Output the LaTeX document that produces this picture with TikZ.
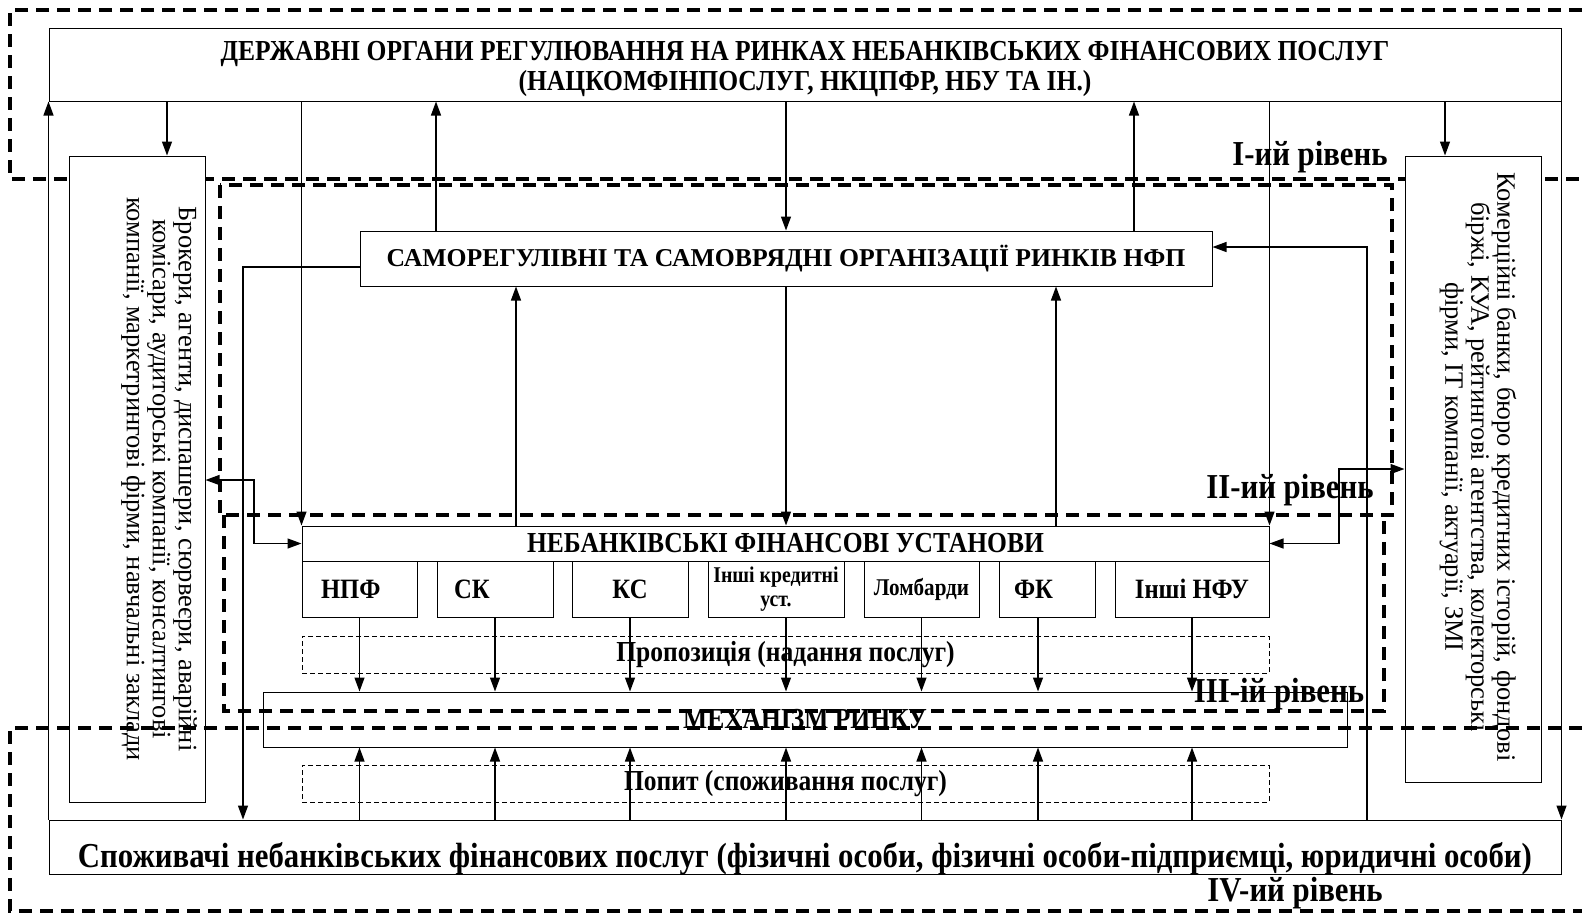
\documentclass[tikz,border=0pt]{standalone}
\usepackage{fontspec}
\setmainfont{Liberation Serif}
\newfontfamily\narrowfont[FakeStretch=0.88]{Liberation Serif}
\usetikzlibrary{arrows.meta,positioning}

\begin{document}
\begin{tikzpicture}[x=1pt,y=-1pt,>={Triangle[length=14pt,width=10pt]},
    box/.style={draw,line width=1pt,fill=white,inner sep=0pt,align=center},
    lvl/.style={line width=3.5pt,dash pattern=on 13pt off 8pt},
    dbox/.style={draw,line width=0.9pt,dash pattern=on 5pt off 3pt,inner sep=0pt},
    conn/.style={line width=1.3pt},
    bnar/.style={font=\narrowfont\bfseries\fontsize{#1}{#1}\selectfont},
    side/.style={rotate=-90,inner sep=0pt,align=center,font=\fontsize{26.5}{26}\selectfont},
    level/.style={bnar=35}]
  \useasboundingbox (0,0) rectangle (1582,914);
  % рівень I
  \draw[lvl] (1582,10) -- (10,10) -- (10,179) -- (1582,179);

  \node[box,minimum width=1512pt,minimum height=73pt] (gov) at (805,64.5) {};
  \node[bnar=29,align=center] (govt) at (805,68.5)
    {ДЕРЖАВНІ ОРГАНИ РЕГУЛЮВАННЯ НА РИНКАХ НЕБАНКІВСЬКИХ ФІНАНСОВИХ ПОСЛУГ\\[1pt]
     (НАЦКОМФІНПОСЛУГ, НКЦПФР, НБУ ТА ІН.)};
  \node[box,minimum width=136pt,minimum height=646pt] (brk) at (137,479) {};
  \node[side] (brkt) at (159,479)
    {Брокери, агенти, диспашери, сюрвеєри, аварійні\\комісари, аудиторські компанії, консалтингові\\компанії, маркетрингові фірми, навчальні заклади};
  \node[box,minimum width=136pt,minimum height=626pt] (com) at (1473,469) {};
  \node[side] (comt) at (1478,467)
    {Комерційні банки, бюро кредитних історій, фондові\\біржі, КУА, рейтингові агентства, колекторські\\фірми, ІТ компанії, актуарії, ЗМІ};
  \node[box,font=\bfseries\fontsize{25.7}{26}\selectfont,minimum width=852pt,minimum height=55pt] (samo) at (786,258.5)
    {САМОРЕГУЛІВНІ ТА САМОВРЯДНІ ОРГАНІЗАЦІЇ РИНКІВ НФП};
  \node[box,bnar=29,minimum width=967pt,minimum height=35pt] (nfu) at (785.5,543.5)
    {НЕБАНКІВСЬКІ ФІНАНСОВІ УСТАНОВИ};

  % установи
  \node[box,bnar=28,minimum width=115pt,minimum height=56pt,text width=77pt,align=left] (npf) at (359.5,589) {НПФ};
  \node[box,bnar=28,minimum width=116pt,minimum height=56pt,text width=82pt,align=left] (sk) at (495,589) {СК};
  \node[box,bnar=28,minimum width=116pt,minimum height=56pt] (ks) at (630,589) {КС};
  \node[box,bnar=22.5,minimum width=136pt,minimum height=56pt] (ikr) at (776,589) {Інші кредитні\\[1pt]уст.};
  \node[box,bnar=24,minimum width=115pt,minimum height=56pt] (lom) at (921.5,589) {Ломбарди};
  \node[box,bnar=28,minimum width=96pt,minimum height=56pt,text width=66pt,align=left] (fk) at (1047,589) {ФК};
  \node[box,bnar=28,minimum width=154pt,minimum height=56pt] (infu) at (1192,589) {Інші НФУ};

  \node[dbox,bnar=29,minimum width=967pt,minimum height=37pt] (prop) at (785.5,654.5) {Пропозиція (надання послуг)};
  \node[box,bnar=29,minimum width=1084pt,minimum height=55pt] (mech) at (805,719.5) {МЕХАНІЗМ РИНКУ};
  \node[dbox,bnar=29,minimum width=967pt,minimum height=37pt] (popyt) at (785.5,783.5) {Попит (споживання послуг)};
  \node[box,bnar=35,minimum width=1512pt,minimum height=54pt,text height=46pt,text depth=6pt] (cons) at (805,847)
    {Споживачі небанківських фінансових послуг (фізичні особи, фізичні особи-підприємці, юридичні особи)};

  % рівні II--IV
  \draw[lvl] (220,185) rectangle (1392,515);
  \draw[lvl] (224,515) -- (224,711) -- (1384,711) -- (1384,515);
  \draw[lvl] (1582,728) -- (10,728) -- (10,911) -- (1582,911);

  \node[level] (l1) at (1310,157) {І-ий рівень};
  \node[level] (l2) at (1290,490) {ІІ-ий рівень};
  \node[level] (l3) at (1279,694) {ІІІ-ій рівень};
  \node[level] (l4) at (1295,893) {ІV-ий рівень};

  % зв'язки
  \coordinate (sl) at (243,267);
  \coordinate (sr) at (1367,247);
  \coordinate (kl) at (254,543.5);
  \coordinate (kr) at (1339,543.5);
  \draw[conn,->] (cons.north west) -- (gov.south west);
  \draw[conn,->] (gov.south east) -- (cons.north east);
  \draw[conn,->] (gov.south -| 167,0) -- (brk.north -| 167,0);
  \draw[conn,->] (gov.south -| 1445,0) -- (com.north -| 1445,0);
  \draw[conn,->] (gov.south -| nfu.north west) -- (nfu.north west);
  \draw[conn,->] (gov.south -| nfu.north east) -- (nfu.north east);
  \draw[conn,->] (samo.north -| 436,0) -- (gov.south -| 436,0);
  \draw[conn,->] (gov.south -| samo.north) -- (samo.north);
  \draw[conn,->] (samo.north -| 1134,0) -- (gov.south -| 1134,0);
  \draw[conn,->] (nfu.north -| 516,0) -- (samo.south -| 516,0);
  \draw[conn,->] (samo.south) -- (nfu.north -| samo.south);
  \draw[conn,->] (nfu.north -| 1056,0) -- (samo.south -| 1056,0);
  \draw[conn,->] (samo.west |- sl) -- (sl) -- (cons.north -| sl);
  \draw[conn,->] (cons.north -| sr) -- (sr) -- (samo.east |- sr);
  \draw[conn,<->] (brk.east |- 0,480) -| (kl) -- (nfu.west);
  \draw[conn,<->] (nfu.east) -- (kr) |- (com.west |- 0,469);
  \foreach \s/\xx in {npf/359.5,sk/495,ks/630,ikr/786,lom/921.5,fk/1038,infu/1192} {
    \draw[conn,->] (\s.south -| \xx,0) -- (mech.north -| \xx,0);
    \draw[conn,->] (cons.north -| \xx,0) -- (mech.south -| \xx,0);
  }
\end{tikzpicture}
\end{document}
